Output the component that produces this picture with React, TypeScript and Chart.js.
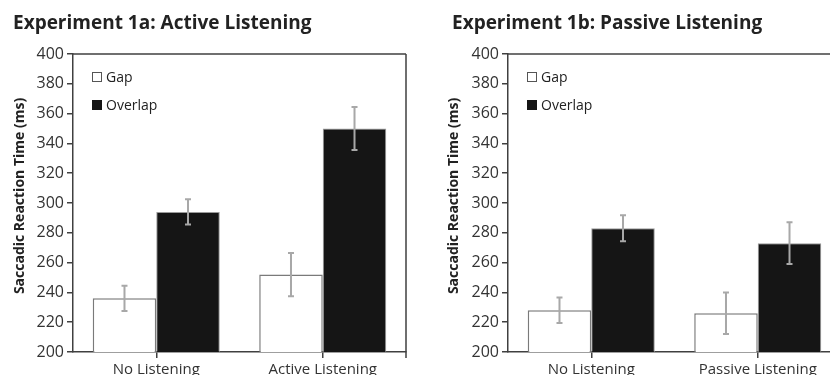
import React, { useEffect, useRef } from "react";
import { Chart, registerables } from "chart.js";
Chart.register(...registerables);

const titleA = "Experiment 1a: Active Listening";
const titleB = "Experiment 1b: Passive Listening";
const yTitle = "Saccadic Reaction Time (ms)";
const seriesNames = ["Gap", "Overlap"];
const categoriesA = ["No Listening", "Active Listening"];
const categoriesB = ["No Listening", "Passive Listening"];
const gapA = [236, 252];
const gapErrA = [8.5, 14.5];
const overlapA = [294, 350];
const overlapErrA = [8.5, 14.5];
const gapB = [228, 226];
const gapErrB = [8.5, 14];
const overlapB = [283, 273];
const overlapErrB = [8.7, 14];
const yMin = 200;
const yMax = 400;
const yStep = 20;

const FONT = "'Open Sans', 'Noto Sans', sans-serif";
const AXIS = "#404040";

type Cfg = {
  title: string;
  titleX: number;
  yTitleX: number;
  categories: string[];
  gap: number[];
  gapErr: number[];
  overlap: number[];
  overlapErr: number[];
  width: number;
  height: number;
  yWidth: number;
  padRight: number;
  rightBorder: boolean;
};

function makeChart(canvas: HTMLCanvasElement, c: Cfg) {
  const top = 54;
  const bottom = 352;
  const decor = {
    id: "decor",
    afterDatasetsDraw(chart: any) {
      const ctx = chart.ctx as CanvasRenderingContext2D;
      const ys = chart.scales.y;
      chart.data.datasets.forEach((ds: any, i: number) => {
        const meta = chart.getDatasetMeta(i);
        meta.data.forEach((el: any, j: number) => {
          const v = ds.data[j];
          const e = ds.errors[j];
          const y1 = ys.getPixelForValue(v + e);
          const y2 = ys.getPixelForValue(v - e);
          ctx.save();
          ctx.strokeStyle = "#a8a8a8";
          ctx.lineWidth = 2;
          ctx.beginPath();
          ctx.moveTo(el.x, y1);
          ctx.lineTo(el.x, y2);
          ctx.moveTo(el.x - 3, y1);
          ctx.lineTo(el.x + 3, y1);
          ctx.moveTo(el.x - 3, y2);
          ctx.lineTo(el.x + 3, y2);
          ctx.stroke();
          ctx.restore();
        });
      });
    },
    afterDraw(chart: any) {
      const ctx = chart.ctx as CanvasRenderingContext2D;
      const a = chart.chartArea;
      ctx.save();
      ctx.strokeStyle = AXIS;
      ctx.lineWidth = 1.5;
      ctx.beginPath();
      ctx.moveTo(a.left, a.top);
      ctx.lineTo(a.right, a.top);
      if (c.rightBorder) {
        ctx.moveTo(a.right, a.top);
        ctx.lineTo(a.right, a.bottom + 6);
      }
      ctx.stroke();
      const fills = ["#ffffff", "#151515"];
      const strokes = ["#555555", "#151515"];
      const ly = [a.top + 23, a.top + 51];
      ctx.font = `14px ${FONT}`;
      ctx.textBaseline = "middle";
      ctx.textAlign = "left";
      seriesNames.forEach((n, i) => {
        ctx.fillStyle = fills[i];
        ctx.fillRect(a.left + 19, ly[i] - 5, 10, 10);
        ctx.strokeStyle = strokes[i];
        ctx.lineWidth = 1;
        ctx.strokeRect(a.left + 19.5, ly[i] - 4.5, 9, 9);
        ctx.fillStyle = "#222";
        ctx.fillText(n, a.left + 33, ly[i] + 1);
      });
      ctx.font = `bold 19px ${FONT}`;
      ctx.fillStyle = "#222";
      ctx.textBaseline = "alphabetic";
      ctx.fillText(c.title, c.titleX, 29);
      ctx.save();
      ctx.translate(c.yTitleX, 196);
      ctx.rotate(-Math.PI / 2);
      ctx.font = `bold 14px ${FONT}`;
      ctx.textAlign = "center";
      ctx.textBaseline = "middle";
      ctx.fillText(yTitle, 0, 0);
      ctx.restore();
      ctx.restore();
    },
  };

  return new Chart(canvas, {
    type: "bar",
    data: {
      labels: c.categories,
      datasets: [
        {
          label: seriesNames[0],
          data: c.gap,
          errors: c.gapErr,
          backgroundColor: "#ffffff",
          borderColor: "#7a7a7a",
          borderWidth: 1.5,
          categoryPercentage: 0.763,
          barPercentage: 1,
        } as any,
        {
          label: seriesNames[1],
          data: c.overlap,
          errors: c.overlapErr,
          backgroundColor: "#151515",
          borderColor: "#9a9a9a",
          borderWidth: 1,
          categoryPercentage: 0.763,
          barPercentage: 1,
        } as any,
      ],
    },
    options: {
      responsive: false,
      animation: false,
      events: [],
      layout: { padding: { top: top, left: 0, right: c.padRight, bottom: 0 } },
      plugins: {
        legend: { display: false },
        title: { display: false },
        tooltip: { enabled: false },
      },
      scales: {
        x: {
          offset: true,
          grid: {
            offset: false,
            drawOnChartArea: false,
            drawTicks: true,
            tickLength: 6,
            color: AXIS,
            lineWidth: 1.5,
          },
          border: { display: true, color: AXIS, width: 1.5 },
          ticks: {
            color: "#333",
            font: { family: FONT, size: 15 },
            padding: 3,
            maxRotation: 0,
            autoSkip: false,
          },
          afterFit(scale: any) {
            scale.height = c.height - bottom;
          },
        },
        y: {
          min: yMin,
          max: yMax,
          grid: {
            drawOnChartArea: false,
            drawTicks: true,
            tickLength: 6,
            color: AXIS,
            lineWidth: 1.5,
          },
          border: { display: true, color: AXIS, width: 1.5 },
          ticks: {
            stepSize: yStep,
            color: "#333",
            font: { family: FONT, size: 16 },
            padding: 3,
          },
          afterFit(scale: any) {
            scale.width = c.yWidth;
          },
        },
      },
    } as any,
    plugins: [decor],
  });
}

function Panel({ cfg, left }: { cfg: Cfg; left: number }) {
  const ref = useRef<HTMLCanvasElement | null>(null);
  useEffect(() => {
    if (!ref.current) return;
    const ch = makeChart(ref.current, cfg);
    return () => ch.destroy();
  }, []);
  return (
    <canvas
      ref={ref}
      width={cfg.width}
      height={cfg.height}
      style={{ position: "absolute", left, top: 0, width: cfg.width, height: cfg.height, display: "block" }}
    />
  );
}

const cfgA: Cfg = {
  title: titleA,
  titleX: 13,
  yTitleX: 20,
  categories: categoriesA,
  gap: gapA,
  gapErr: gapErrA,
  overlap: overlapA,
  overlapErr: overlapErrA,
  width: 415,
  height: 395,
  yWidth: 73,
  padRight: 9,
  rightBorder: true,
};

const cfgB: Cfg = {
  title: titleB,
  titleX: 37,
  yTitleX: 39,
  categories: categoriesB,
  gap: gapB,
  gapErr: gapErrB,
  overlap: overlapB,
  overlapErr: overlapErrB,
  width: 460,
  height: 395,
  yWidth: 93,
  padRight: 34,
  rightBorder: false,
};

export default function App() {
  return (
    <div
      style={{
        position: "fixed",
        left: 0,
        top: 0,
        width: 830,
        height: 375,
        overflow: "hidden",
        background: "#fff",
      }}
    >
      <Panel cfg={cfgA} left={0} />
      <Panel cfg={cfgB} left={415} />
    </div>
  );
}
